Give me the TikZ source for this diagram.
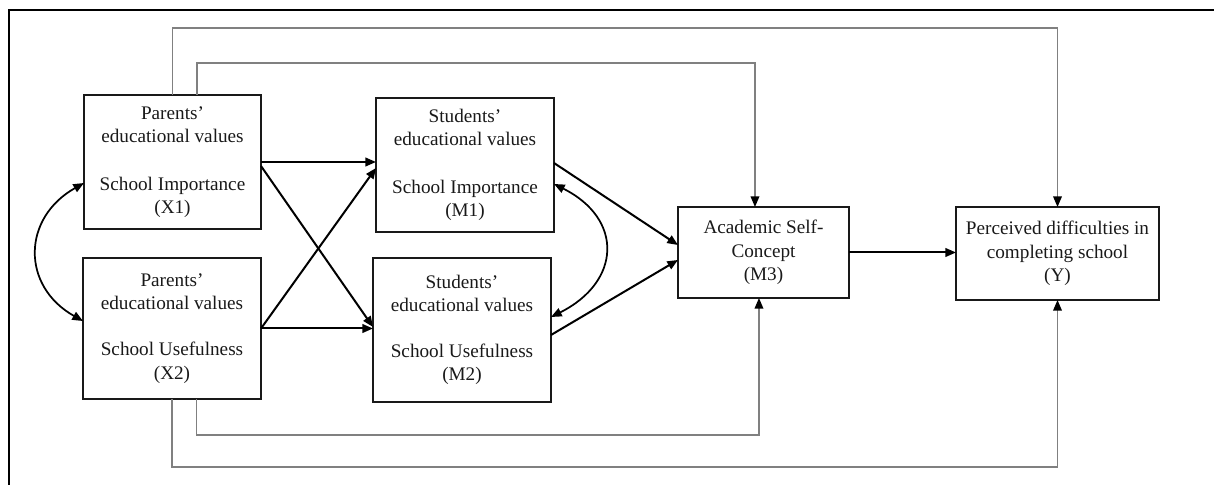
\documentclass[tikz,border=0pt]{standalone}
\usepackage{fontspec}
\setmainfont{Liberation Serif}
\usetikzlibrary{arrows.meta}

\tikzset{
  box/.style 2 args={draw=black!90, line width=1.4pt, inner sep=0pt, outer sep=0pt,
    align=center, text=black!90, minimum width=#1*0.75pt, minimum height=#2*0.75pt,
    font=\fontsize{14.4}{17.5}\selectfont},
  effect/.style={draw=black, line width=1.5pt, -{Triangle[length=8pt,width=6.5pt]}},
  covar/.style={draw=black, line width=1.3pt,
    {Triangle[length=8pt,width=6.5pt]}-{Triangle[length=8pt,width=6.5pt]}},
  direct/.style={draw=black!50, line width=1.1pt, -{Triangle[length=8pt,width=6.5pt,black]}},
  frame/.style={draw=black, line width=1.2pt}
}

\begin{document}
\begin{tikzpicture}[x=0.75pt,y=0.75pt]

\useasboundingbox (0,0) rectangle (1214,485);

% outer border
\coordinate (fb) at (9,0);
\coordinate (ft) at (9,475);
\coordinate (fr) at (1214,475);
\draw[frame] (fb) -- (ft) -- (fr);

% variables
\node[box={177}{134}] (X1) at (172.5,323)
  {Parents’\\educational values\\[18pt]School Importance\\(X1)};
\node[box={178}{141}] (X2) at (172,156.5)
  {Parents’\\educational values\\[17pt]School Usefulness\\(X2)};
\node[box={178}{134}] (M1) at (465,320)
  {Students’\\educational values\\[18pt]School Importance\\(M1)};
\node[box={178}{144}] (M2) at (462,155)
  {Students’\\educational values\\[17pt]School Usefulness\\(M2)};
\node[box={171}{91}] (M3) at (763.5,232.5)
  {Academic Self-\\Concept\\(M3)};
\node[box={203}{93}] (Y) at (1057.5,231.5)
  {Perceived difficulties in\\completing school\\(Y)};

% parents -> students
\draw[effect] (X1.east) -- (M1.west |- X1.east);
\draw[effect] ([yshift=-3pt]X1.east) -- ([yshift=2.25pt]M2.west);
\draw[effect] (X2.east) -- (M2.west |- X2.east);
\draw[effect] (X2.east) -- ([yshift=-2.25pt]M1.west);

% students -> self-concept -> outcome
\draw[effect] ([yshift=1.5pt]M1.east) -- ([yshift=5.6pt]M3.west);
\draw[effect] ([yshift=-3.75pt]M2.east) -- ([yshift=-5.6pt]M3.west);
\draw[effect] (M3.east) -- (Y.west |- M3.east);

% covariances
\draw[covar] ([yshift=-15.75pt]X1.west) .. controls +(-62,-35) and +(-62,35) .. ([yshift=5.6pt]X2.west);
\draw[covar] ([yshift=-14.25pt]M1.east) .. controls +(70,-35) and +(70,35) .. ([yshift=9.75pt]M2.east);

% direct paths from parents' values
\draw[direct] (X1.north) -- ++(0,67) -| (Y.north);
\draw[direct] ([xshift=18.4pt]X1.north) -- ++(0,32) -| ([xshift=-6.4pt]M3.north);
\draw[direct] ([xshift=18.4pt]X2.south) -- ++(0,-36) -| ([xshift=-3.4pt]M3.south);
\draw[direct] (X2.south) -- ++(0,-68) -| (Y.south);
\end{tikzpicture}
\end{document}
